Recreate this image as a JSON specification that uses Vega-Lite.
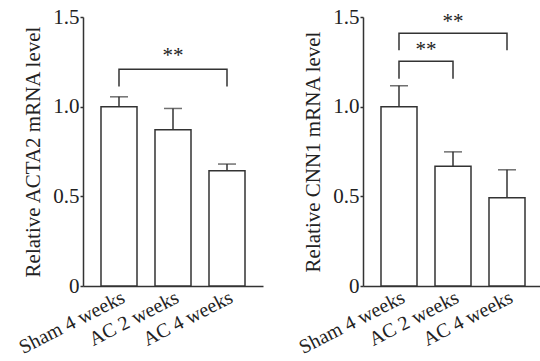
{
  "$schema": "https://vega.github.io/schema/vega-lite/v6.json",
  "padding": {"left": 15, "top": 6, "right": 0, "bottom": 0},
  "background": "white",
  "bounds": "flush",
  "spacing": 100,
  "config": {
    "font": "Liberation Serif",
    "view": {"stroke": null},
    "axis": {
      "domainColor": "#333333",
      "domainWidth": 1.5,
      "tickColor": "#333333",
      "tickWidth": 1.5,
      "labelColor": "#222222",
      "titleColor": "#222222",
      "labelFont": "Liberation Serif",
      "titleFont": "Liberation Serif",
      "labelFontSize": 21,
      "titleFontSize": 21,
      "titleFontWeight": "normal",
      "grid": false
    }
  },
  "datasets": {
    "acta2": [
      {"group": "Sham 4 weeks", "mean": 1.0, "upper": 1.055},
      {"group": "AC 2 weeks", "mean": 0.871, "upper": 0.99},
      {"group": "AC 4 weeks", "mean": 0.642, "upper": 0.68}
    ],
    "cnn1": [
      {"group": "Sham 4 weeks", "mean": 1.0, "upper": 1.116},
      {"group": "AC 2 weeks", "mean": 0.668, "upper": 0.748},
      {"group": "AC 4 weeks", "mean": 0.492, "upper": 0.648}
    ],
    "br1": [
      {"bracket": "a", "group": "Sham 4 weeks", "y": 1.113, "ord": 1},
      {"bracket": "a", "group": "Sham 4 weeks", "y": 1.209, "ord": 2},
      {"bracket": "a", "group": "AC 4 weeks", "y": 1.209, "ord": 3},
      {"bracket": "a", "group": "AC 4 weeks", "y": 1.113, "ord": 4}
    ],
    "br2": [
      {"bracket": "outer", "group": "Sham 4 weeks", "y": 1.315, "ord": 1},
      {"bracket": "outer", "group": "Sham 4 weeks", "y": 1.41, "ord": 2},
      {"bracket": "outer", "group": "AC 4 weeks", "y": 1.41, "ord": 3},
      {"bracket": "outer", "group": "AC 4 weeks", "y": 1.315, "ord": 4},
      {"bracket": "inner", "group": "Sham 4 weeks", "y": 1.156, "ord": 1},
      {"bracket": "inner", "group": "Sham 4 weeks", "y": 1.253, "ord": 2},
      {"bracket": "inner", "group": "AC 2 weeks", "y": 1.253, "ord": 3},
      {"bracket": "inner", "group": "AC 2 weeks", "y": 1.156, "ord": 4}
    ],
    "st1": [{"group": "AC 2 weeks", "y": 1.283, "label": "**"}],
    "st2outer": [{"group": "AC 2 weeks", "y": 1.47, "label": "**"}],
    "st2inner": [{"group": "Sham 4 weeks", "y": 1.316, "label": "**"}]
  },
  "hconcat": [
    {
      "width": 180,
      "height": 269,
      "encoding": {
        "x": {
          "field": "group", "type": "nominal",
          "sort": ["Sham 4 weeks", "AC 2 weeks", "AC 4 weeks"],
          "scale": {"paddingInner": 0.3333, "paddingOuter": 0.3333},
          "axis": {"title": null, "labelAngle": -27, "labelFontSize": 20, "ticks": false, "labelPadding": 1}
        }
      },
      "layer": [
        {
          "data": {"name": "acta2"},
          "mark": {"type": "bar", "fill": "white", "stroke": "#333333", "strokeWidth": 1.5},
          "encoding": {
            "y": {
              "field": "mean", "type": "quantitative",
              "scale": {"domain": [0, 1.5], "nice": false},
              "axis": {
                "title": "Relative ACTA2 mRNA level",
                "values": [0, 0.5, 1.0, 1.5],
                "labelExpr": "datum.value == 0 ? '0' : format(datum.value, '.1f')",
                "tickSize": 3, "labelPadding": 1, "titlePadding": 9
              }
            }
          }
        },
        {
          "data": {"name": "acta2"},
          "mark": {"type": "rule", "stroke": "#333333", "strokeWidth": 1.5},
          "encoding": {"y": {"field": "mean", "type": "quantitative"}, "y2": {"field": "upper"}}
        },
        {
          "data": {"name": "acta2"},
          "mark": {"type": "tick", "color": "#333333", "thickness": 1.5, "size": 18, "orient": "horizontal"},
          "encoding": {"y": {"field": "upper", "type": "quantitative"}}
        },
        {
          "data": {"name": "br1"},
          "mark": {"type": "line", "stroke": "#333333", "strokeWidth": 1.5},
          "encoding": {
            "y": {"field": "y", "type": "quantitative"},
            "detail": {"field": "bracket"},
            "order": {"field": "ord"}
          }
        },
        {
          "data": {"name": "st1"},
          "mark": {"type": "text", "fontSize": 21, "font": "Liberation Serif", "color": "#222222", "baseline": "middle"},
          "encoding": {"y": {"field": "y", "type": "quantitative"}, "text": {"field": "label"}}
        }
      ]
    },
    {
      "width": 180,
      "height": 269,
      "encoding": {
        "x": {
          "field": "group", "type": "nominal",
          "sort": ["Sham 4 weeks", "AC 2 weeks", "AC 4 weeks"],
          "scale": {"paddingInner": 0.3333, "paddingOuter": 0.3333},
          "axis": {"title": null, "labelAngle": -27, "labelFontSize": 20, "ticks": false, "labelPadding": 1}
        }
      },
      "layer": [
        {
          "data": {"name": "cnn1"},
          "mark": {"type": "bar", "fill": "white", "stroke": "#333333", "strokeWidth": 1.5},
          "encoding": {
            "y": {
              "field": "mean", "type": "quantitative",
              "scale": {"domain": [0, 1.5], "nice": false},
              "axis": {
                "title": "Relative CNN1 mRNA level",
                "values": [0, 0.5, 1.0, 1.5],
                "labelExpr": "datum.value == 0 ? '0' : format(datum.value, '.1f')",
                "tickSize": 3, "labelPadding": 1, "titlePadding": 9
              }
            }
          }
        },
        {
          "data": {"name": "cnn1"},
          "mark": {"type": "rule", "stroke": "#333333", "strokeWidth": 1.5},
          "encoding": {"y": {"field": "mean", "type": "quantitative"}, "y2": {"field": "upper"}}
        },
        {
          "data": {"name": "cnn1"},
          "mark": {"type": "tick", "color": "#333333", "thickness": 1.5, "size": 18, "orient": "horizontal"},
          "encoding": {"y": {"field": "upper", "type": "quantitative"}}
        },
        {
          "data": {"name": "br2"},
          "mark": {"type": "line", "stroke": "#333333", "strokeWidth": 1.5},
          "encoding": {
            "y": {"field": "y", "type": "quantitative"},
            "detail": {"field": "bracket"},
            "order": {"field": "ord"}
          }
        },
        {
          "data": {"name": "st2outer"},
          "mark": {"type": "text", "fontSize": 21, "font": "Liberation Serif", "color": "#222222", "baseline": "middle"},
          "encoding": {"y": {"field": "y", "type": "quantitative"}, "text": {"field": "label"}}
        },
        {
          "data": {"name": "st2inner"},
          "mark": {"type": "text", "fontSize": 21, "font": "Liberation Serif", "color": "#222222", "baseline": "middle"},
          "encoding": {
            "x": {"field": "group", "type": "nominal", "bandPosition": 1.25, "sort": ["Sham 4 weeks", "AC 2 weeks", "AC 4 weeks"]},
            "y": {"field": "y", "type": "quantitative"},
            "text": {"field": "label"}
          }
        }
      ]
    }
  ]
}
